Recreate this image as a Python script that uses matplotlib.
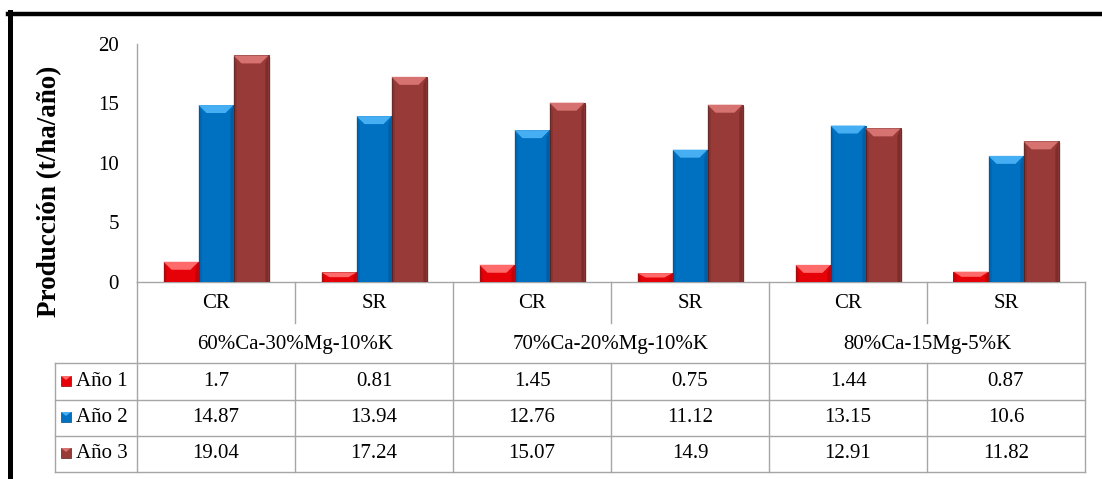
import matplotlib.pyplot as plt
from matplotlib.patches import Polygon, Rectangle
from matplotlib.lines import Line2D

plt.rcParams['font.family'] = ['Liberation Serif', 'DejaVu Serif']

# datos de producción por tratamiento
grupos = ['60%Ca-30%Mg-10%K', '70%Ca-20%Mg-10%K', '80%Ca-15Mg-5%K']
tratamientos = ['CR', 'SR', 'CR', 'SR', 'CR', 'SR']
series = ['Año 1', 'Año 2', 'Año 3']
ano1 = [1.7, 0.81, 1.45, 0.75, 1.44, 0.87]
ano2 = [14.87, 13.94, 12.76, 11.12, 13.15, 10.6]
ano3 = [19.04, 17.24, 15.07, 14.9, 12.91, 11.82]
yticks = [0, 5, 10, 15, 20]

colores = ['#E60008', '#0070C0', '#983A38']
claros = ['#FF6A6A', '#46AEF2', '#D67270']
oscuros = ['#9A0000', '#004A86', '#5C1F1D']

W, H = 1102, 479
fig = plt.figure(figsize=(W / 100, H / 100), dpi=100)

# ejes en pixeles: x 137..1085, y 44..282
X0, X1, Y0, Y1 = 137, 1085, 282, 44
ax = fig.add_axes([X0 / W, 1 - Y0 / H, (X1 - X0) / W, (Y0 - Y1) / H])
n = len(tratamientos)
ax.set_xlim(-0.5, n - 0.5)
ax.set_ylim(0, 20)
ax.set_yticks(yticks)
ax.set_xticks([])
ax.tick_params(axis='y', length=0, pad=13, labelsize=15)
for s in ['top', 'right']:
    ax.spines[s].set_visible(False)
for s in ['left', 'bottom']:
    ax.spines[s].set_color('#A6A6A6')
    ax.spines[s].set_linewidth(1)

px_u = (X1 - X0) / n                 # pixeles por categoria
py_u = (Y0 - Y1) / 20                # pixeles por unidad
FS = 15


def fy(py):
    return (Y0 - py) / (Y0 - Y1)


def dx(px):
    return (px - X0) / px_u - 0.5


ancho = 35 / px_u
xs = list(range(n))
for k, vals in enumerate([ano1, ano2, ano3]):
    pos = [x + (k - 1) * ancho for x in xs]
    barras = ax.bar(pos, vals, width=ancho, color=colores[k],
                    edgecolor=oscuros[k], linewidth=0.6, zorder=3)
    bx = 8 / px_u
    by = 8 / py_u
    for r in barras:
        x, w, h = r.get_x(), r.get_width(), r.get_height()
        b = min(by, h * 0.5)
        # sombra
        ax.add_patch(Rectangle((x + 2.5 / px_u, 0), w, h - 2 / py_u,
                               color='#000000', alpha=0.12, lw=0, zorder=2))
        # bisel superior
        ax.add_patch(Polygon([(x, h), (x + w, h), (x + w - bx, h - b), (x + bx, h - b)],
                             closed=True, color=claros[k], lw=0, zorder=4))
        # laterales
        ax.add_patch(Polygon([(x, h), (x + bx * 0.4, h - b), (x + bx * 0.4, 0), (x, 0)],
                             closed=True, color=oscuros[k], alpha=0.3, lw=0, zorder=4))
        ax.add_patch(Polygon([(x + w, h), (x + w - bx * 0.4, h - b), (x + w - bx * 0.4, 0), (x + w, 0)],
                             closed=True, color=oscuros[k], alpha=0.45, lw=0, zorder=4))

# tabla de datos bajo el eje
tr = ax.get_xaxis_transform()
gris = '#A6A6A6'


def linea(x0, x1, y0, y1):
    ax.add_line(Line2D([x0, x1], [fy(y0), fy(y1)], transform=tr, color=gris,
                       lw=1, clip_on=False))


xl = dx(55)
filas = [363, 400, 436, 472]
for yy in filas:
    linea(xl, n - 0.5, yy, yy)
linea(xl, xl, 363, 472)
for b in [-0.5, 1.5, 3.5, 5.5]:
    linea(b, b, 282, 472)
for b in [0.5, 2.5, 4.5]:
    linea(b, b, 282, 323)
    linea(b, b, 363, 472)

for i, t in enumerate(tratamientos):
    ax.text(i, fy(303), t, transform=tr, ha='center', va='center', fontsize=FS, clip_on=False)
for g, nombre in enumerate(grupos):
    ax.text(2 * g + 0.5, fy(344), nombre, transform=tr, ha='center', va='center',
            fontsize=FS, clip_on=False)

centros = [382, 418, 454]
for k, (nombre, vals) in enumerate(zip(series, [ano1, ano2, ano3])):
    yc = centros[k]
    for i, v in enumerate(vals):
        ax.text(i, fy(yc), str(v), transform=tr, ha='center', va='center',
                fontsize=FS, clip_on=False)
    ax.add_patch(Rectangle((dx(61), fy(yc + 4)), 10 / px_u, 10 / (Y0 - Y1),
                           transform=tr, facecolor=colores[k], edgecolor=oscuros[k],
                           lw=0.5, clip_on=False))
    ax.add_patch(Polygon([(dx(61), fy(yc - 6)), (dx(71), fy(yc - 6)), (dx(66), fy(yc - 2))],
                         closed=True, transform=tr, color=claros[k], lw=0, clip_on=False))
    ax.text(dx(76), fy(yc), nombre, transform=tr, ha='left', va='center',
            fontsize=FS, clip_on=False)

fig.text(50 / W, 1 - 191 / H, 'Producción (t/ha/año)', rotation=90, ha='center',
         va='center', fontsize=19.5, fontweight='bold')

# marco exterior
fig.add_artist(Line2D([8 / W, 1], [1 - 14 / H, 1 - 14 / H], transform=fig.transFigure,
                      color='black', lw=3.2))
fig.add_artist(Line2D([10 / W, 10 / W], [0, 1 - 12 / H], transform=fig.transFigure,
                      color='black', lw=3.6))

fig.savefig('out.png', dpi=100)
